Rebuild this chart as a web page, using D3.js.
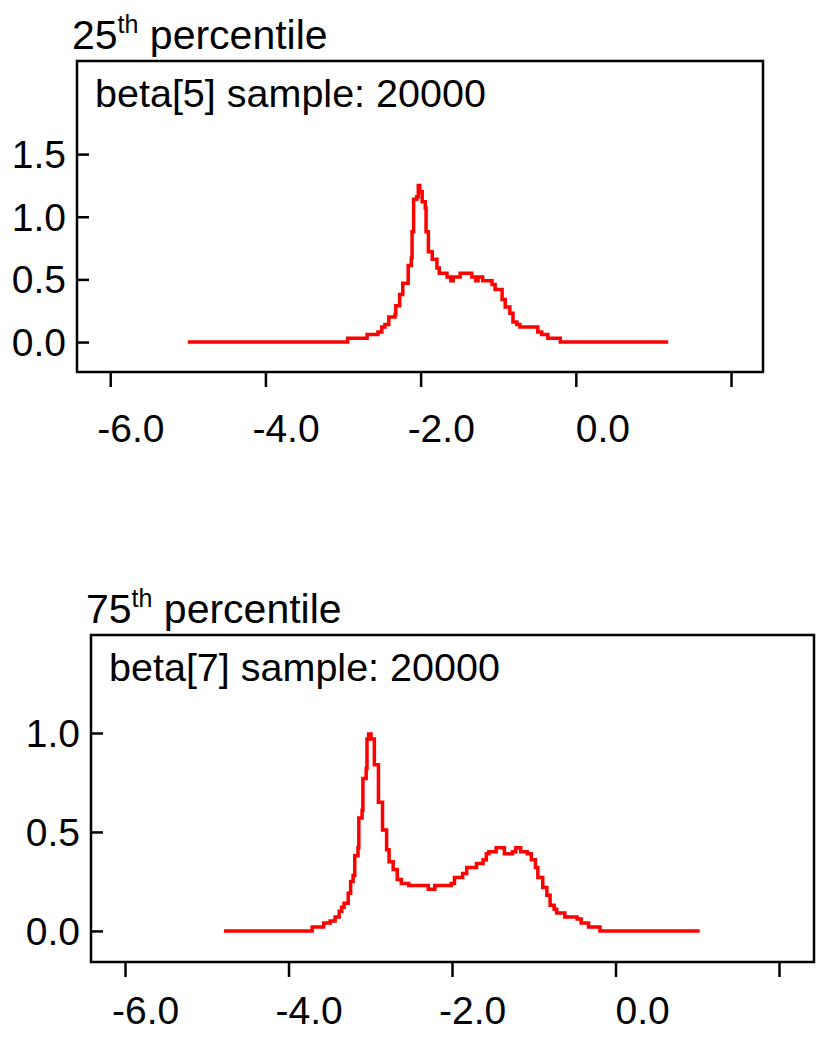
<!DOCTYPE html>
<html><head><meta charset="utf-8">
<script src="https://cdn.jsdelivr.net/npm/d3@7"></script>
<style>
html,body{margin:0;padding:0;background:#fff;}
text{font-family:"Liberation Sans",Arial,Helvetica,sans-serif;fill:#000;}
</style></head>
<body>
<svg id="chart" width="832" height="1050"></svg>
<script>
// ---- data ----
const xTicks = [-6, -4, -2, 0, 2];
const xTickLabels = ["-6.0", "-4.0", "-2.0", "0.0", ""];

// Panel 1: beta[5], 25th percentile
const p1Title = "25";
const p1Label = "beta[5] sample: 20000";
const p1YTicks = [0, 0.5, 1.0, 1.5];
const p1X = [-5.0, -2.94, -2.69, -2.55, -2.50, -2.46, -2.41, -2.33, -2.32, -2.27, -2.23, -2.16, -2.12, -2.11, -2.09, -2.05, -2.03, -2.01, -1.98, -1.94, -1.93, -1.90, -1.85, -1.79, -1.76, -1.66, -1.61, -1.58, -1.49, -1.34, -1.29, -1.26, -1.20, -1.08, -1.04, -0.95, -0.91, -0.85, -0.81, -0.76, -0.72, -0.49, -0.44, -0.36, -0.20, 1.19];
const p1Y = [0, 0.03, 0.06, 0.08, 0.12, 0.14, 0.20, 0.22, 0.29, 0.38, 0.47, 0.61, 0.67, 0.88, 1.14, 1.16, 1.25, 1.20, 1.12, 1.07, 0.88, 0.72, 0.66, 0.59, 0.55, 0.52, 0.49, 0.52, 0.55, 0.52, 0.49, 0.52, 0.49, 0.46, 0.42, 0.34, 0.28, 0.23, 0.16, 0.14, 0.12, 0.08, 0.06, 0.03, 0, 0];

// Panel 2: beta[7], 75th percentile
const p2Title = "75";
const p2Label = "beta[7] sample: 20000";
const p2YTicks = [0, 0.5, 1.0];
const p2X = [-4.79, -3.71, -3.57, -3.49, -3.43, -3.38, -3.35, -3.32, -3.27, -3.24, -3.21, -3.19, -3.15, -3.14, -3.10, -3.09, -3.05, -3.04, -3.02, -2.99, -2.95, -2.90, -2.85, -2.80, -2.77, -2.72, -2.67, -2.62, -2.53, -2.29, -2.21, -2.01, -1.97, -1.87, -1.82, -1.70, -1.62, -1.58, -1.55, -1.46, -1.36, -1.26, -1.22, -1.16, -1.08, -1.03, -0.98, -0.95, -0.89, -0.84, -0.80, -0.75, -0.72, -0.62, -0.47, -0.42, -0.33, -0.19, 1.03];
const p2Y = [0, 0.02, 0.04, 0.05, 0.07, 0.10, 0.12, 0.14, 0.19, 0.25, 0.28, 0.38, 0.42, 0.57, 0.61, 0.77, 0.82, 0.97, 0.995, 0.97, 0.84, 0.65, 0.51, 0.41, 0.35, 0.31, 0.26, 0.24, 0.23, 0.21, 0.23, 0.24, 0.27, 0.29, 0.32, 0.34, 0.36, 0.39, 0.40, 0.42, 0.39, 0.40, 0.42, 0.40, 0.39, 0.36, 0.32, 0.27, 0.22, 0.18, 0.13, 0.11, 0.09, 0.07, 0.06, 0.04, 0.02, 0, 0];

const panels = [
  {title: p1Title, label: p1Label, yTicks: p1YTicks, xs: p1X, ys: p1Y,
   frame: {l: 77, r: 763, t: 61, b: 372}, xDom: [-6.428, 2.412], yDom: [-0.239, 2.243], labOff: 70},
  {title: p2Title, label: p2Label, yTicks: p2YTicks, xs: p2X, ys: p2Y,
   frame: {l: 91, r: 814, t: 635, b: 962}, xDom: [-6.416, 2.428], yDom: [-0.157, 1.495], labOff: 62}
];

const svg = d3.select("#chart");
const FS = 39;

panels.forEach(p => {
  const f = p.frame;
  const x = d3.scaleLinear().domain(p.xDom).range([f.l, f.r]);
  const y = d3.scaleLinear().domain(p.yDom).range([f.b, f.t]);
  const g = svg.append("g");

  // title with superscript
  const t = g.append("text").attr("x", f.l - 5).attr("y", f.t - 12).attr("font-size", 41);
  t.append("tspan").text(p.title);
  t.append("tspan").attr("font-size", 25).attr("dy", -16).text("th");
  t.append("tspan").attr("dy", 16).text(" percentile");

  // curve
  const data = p.xs.map((v, i) => [v, p.ys[i]]);
  g.append("path").datum(data)
    .attr("fill", "none").attr("stroke", "#ff0000").attr("stroke-width", 3.5)
    .attr("d", d3.line().x(d => x(d[0])).y(d => y(d[1])).curve(d3.curveStepAfter));

  // frame
  g.append("rect").attr("x", f.l).attr("y", f.t)
    .attr("width", f.r - f.l).attr("height", f.b - f.t)
    .attr("fill", "none").attr("stroke", "#000").attr("stroke-width", 2.5);

  // y axis: ticks inside, labels outside
  const yAx = d3.axisRight(y).tickValues(p.yTicks).tickSize(12).tickFormat("");
  const ya = g.append("g").attr("transform", `translate(${f.l},0)`).call(yAx);
  ya.select(".domain").remove();
  ya.selectAll(".tick line").attr("stroke", "#000").attr("stroke-width", 2.5);
  g.selectAll(".ylab").data(p.yTicks).enter().append("text")
    .attr("x", f.l - 11).attr("y", d => y(d)).attr("dy", "0.36em")
    .attr("text-anchor", "end").attr("font-size", FS)
    .text(d => d3.format(".1f")(d));

  // x axis: ticks outside below
  const xAx = d3.axisBottom(x).tickValues(xTicks).tickSize(15).tickFormat("");
  const xa = g.append("g").attr("transform", `translate(0,${f.b})`).call(xAx);
  xa.select(".domain").remove();
  xa.selectAll(".tick line").attr("stroke", "#000").attr("stroke-width", 2.5);
  g.selectAll(".xlab").data(xTicks).enter().append("text")
    .attr("x", d => x(d)).attr("y", f.b + p.labOff)
    .attr("dx", (d, i) => xTickLabels[i].startsWith("-") ? "-0.333em" : 0)
    .attr("text-anchor", "start").attr("font-size", FS)
    .text((d, i) => xTickLabels[i]);

  // in-plot label
  g.append("text").attr("x", f.l + 18).attr("y", f.t + 46)
    .attr("font-size", 39.5).text(p.label);
});
</script>
</body></html>
